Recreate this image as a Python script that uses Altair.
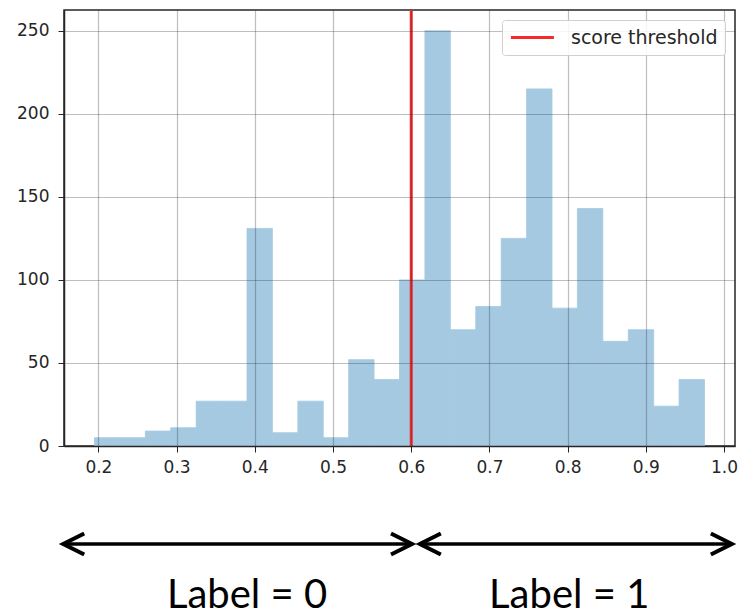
import altair as alt
import pandas as pd

# ---- data ----
bin_edges = [0.195, 0.2275, 0.26, 0.2925, 0.325, 0.3575, 0.39, 0.4225, 0.455,
             0.4875, 0.52, 0.5525, 0.585, 0.6175, 0.65, 0.6825, 0.715, 0.7475,
             0.78, 0.8125, 0.845, 0.8775, 0.91, 0.9425, 0.975]
counts = [5, 5, 9, 11, 27, 27, 131, 8, 27, 5, 52, 40, 100, 250, 70, 84, 125,
          215, 83, 143, 63, 70, 24, 40]
threshold = [0.6]
threshold_label = ["score threshold"]
x_ticks = [0.2, 0.3, 0.4, 0.5, 0.6, 0.7, 0.8, 0.9, 1.0]
y_ticks = [0, 50, 100, 150, 200, 250]
arrow_start = [0.155, 0.611]
arrow_end = [0.601, 1.01]
side_labels = ["Label = 0", "Label = 1"]
side_label_x = [0.39, 0.802]

hist = pd.DataFrame({"start": bin_edges[:-1], "end": bin_edges[1:], "count": counts})
thr = pd.DataFrame({"x": threshold, "label": threshold_label})
arrows = pd.DataFrame({"start": arrow_start, "end": arrow_end})
texts = pd.DataFrame({"x": side_label_x, "label": side_labels})

xscale = alt.Scale(domain=[0.156, 1.014], nice=False, zero=False)
yscale = alt.Scale(domain=[0, 262.5], nice=False)

axis_common = dict(labelFont="DejaVu Sans", labelFontSize=17, labelColor="#262626",
                   tickColor="#262626", tickSize=6, domain=True,
                   domainColor="#262626", domainWidth=1.5,
                   gridColor="#22303c", gridOpacity=0.31, gridWidth=1.2, grid=True,
                   zindex=1)

bars = alt.Chart(hist).mark_rect(color="#a5c9e1", stroke="#a5c9e1",
                                 strokeWidth=0.8).encode(
    x=alt.X("start:Q", scale=xscale, title=None,
            axis=alt.Axis(values=x_ticks, format=".1f", labelPadding=7, **axis_common)),
    x2="end:Q",
    y=alt.Y("count:Q", scale=yscale, title=None,
            axis=alt.Axis(values=y_ticks, labelPadding=9, **axis_common)),
    y2=alt.datum(0),
)

rule = alt.Chart(thr).mark_rule(strokeWidth=3).encode(
    x=alt.X("x:Q", scale=xscale),
    color=alt.Color("label:N",
                    scale=alt.Scale(domain=threshold_label, range=["#f52a2a"]),
                    legend=alt.Legend(title=None, orient="top-right", offset=10,
                                      symbolType="M-1,0L4,0", symbolSize=296,
                                      symbolStrokeWidth=3, labelOffset=41,
                                      labelFont="DejaVu Sans", labelFontSize=19,
                                      labelColor="#262626",
                                      fillColor="rgba(255,255,255,0.85)",
                                      strokeColor="#d0d0d0",
                                      padding=7, cornerRadius=3, zindex=2)),
)

arrow_lines = alt.Chart(arrows).mark_rule(strokeWidth=3.5, color="black").encode(
    x=alt.X("start:Q", scale=xscale), x2="end:Q", y=alt.value(534)
)
left_heads = alt.Chart(arrows).mark_point(
    shape="M1,-0.5L0,0L1,0.5", size=1764, filled=False, color="black",
    strokeWidth=4, opacity=1, strokeJoin="miter"
).encode(x=alt.X("start:Q", scale=xscale), y=alt.value(534))
right_heads = alt.Chart(arrows).mark_point(
    shape="M-1,-0.5L0,0L-1,0.5", size=1764, filled=False, color="black",
    strokeWidth=4, opacity=1, strokeJoin="miter"
).encode(x=alt.X("end:Q", scale=xscale), y=alt.value(534))

labels = alt.Chart(texts).mark_text(font="Lato", fontSize=40, align="center",
                                    baseline="alphabetic", color="black").encode(
    x=alt.X("x:Q", scale=xscale), y=alt.value(598), text="label:N"
)

chart = alt.layer(bars, rule, arrow_lines, left_heads, right_heads, labels).properties(
    width=671, height=436,
    autosize=alt.AutoSizeParams(type="none"),
    padding={"left": 64, "top": 10, "right": 8, "bottom": 170},
    background="white",
).configure_view(stroke="#262626", strokeWidth=1.5)

chart.save("out.html", embed_options={"renderer": "svg", "actions": False})
